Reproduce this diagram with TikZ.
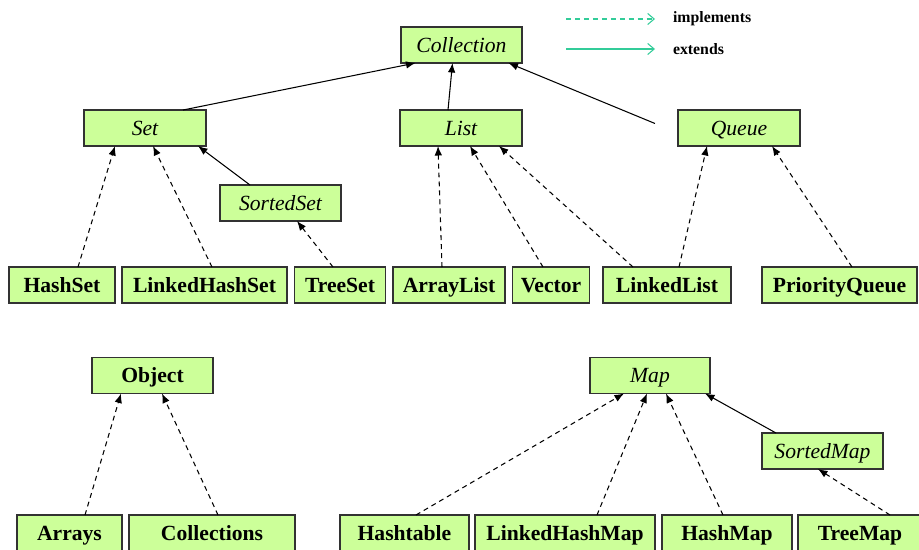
\documentclass[tikz,border=0pt]{standalone}
\usepackage{fontspec}
\setmainfont{Liberation Serif}
\usepackage{tikz}
\usetikzlibrary{positioning,calc}
\usetikzlibrary{arrows.meta}
\definecolor{mygreen}{RGB}{204,255,153}
\definecolor{myframe}{RGB}{50,50,50}
\definecolor{myteal}{RGB}{51,204,153}

\begin{document}
\begin{tikzpicture}[x=0.02cm,y=-0.02cm,outer sep=0pt,
cls/.style={
  draw=myframe,
  fill=mygreen,
  line width=0.9pt,
  inner sep=0pt,
  minimum height=0.72cm,
  text height=9.6pt,
  text depth=1.4pt,
  font={\fontsize{12.3}{14}\selectfont\bfseries}},
ifc/.style={cls,font={\fontsize{12.3}{14}\selectfont\itshape}},
ext/.style={line width=0.6pt,-{Latex[length=0.19cm,width=0.15cm]}},
impl/.style={ext,dash pattern=on 2.8pt off 2.3pt},
legend/.style={font={\fontsize{9}{11}\selectfont\bfseries},anchor=west,inner sep=0pt},
]
\useasboundingbox (0,0) rectangle (919,549);

% legend
\coordinate (limpl) at (566,19);
\coordinate (lext) at (566,49);
\node[legend] (timpl) at (673,19) {implements};
\node[legend] (text) at (673,49) {extends};
\draw[myteal,line width=0.6pt,dash pattern=on 2.8pt off 2.3pt,-{Straight Barb[length=0.13cm,width=0.22cm]}] (limpl) -- ($(timpl.west)+(-18,0)$);
\draw[myteal,line width=0.6pt,-{Straight Barb[length=0.13cm,width=0.22cm]}] (lext) -- ($(text.west)+(-18,0)$);

% collections
\node[ifc, minimum width=2.42cm] (coll) at (461.5,45) {Collection};
\node[ifc, minimum width=2.44cm] (set) at (145,128) {Set};
\node[ifc, minimum width=2.44cm] (list) at (461,128) {List};
\node[ifc, minimum width=2.44cm] (queue) at (739,128) {Queue};
\node[ifc, minimum width=2.42cm] (sset) at (280.5,203) {SortedSet};

\node[cls, minimum width=2.12cm] (hset) at (62,285) {HashSet};
\node[cls, minimum width=3.30cm] (lhset) at (204.5,285) {LinkedHashSet};
\node[cls, minimum width=1.82cm] (tset) at (340,285) {TreeSet};
\node[cls, minimum width=2.24cm] (alist) at (449,285) {ArrayList};
\node[cls, minimum width=1.54cm] (vec) at (551,285) {Vector};
\node[cls, minimum width=2.56cm] (llist) at (667,285) {LinkedList};
\node[cls, minimum width=3.10cm] (pq) at (839.5,285) {PriorityQueue};

% object and maps
\node[cls, minimum width=2.42cm] (obj) at (152.5,375.5) {Object};
\node[ifc, minimum width=2.40cm] (map) at (650,375.5) {Map};
\node[ifc, minimum width=2.42cm] (smap) at (822.5,451) {SortedMap};

\node[cls, minimum width=2.10cm] (arr) at (69.5,533) {Arrays};
\node[cls, minimum width=3.32cm] (colls) at (212,533) {Collections};
\node[cls, minimum width=2.58cm] (htab) at (404.5,533) {Hashtable};
\node[cls, minimum width=3.60cm] (lhmap) at (565,533) {LinkedHashMap};
\node[cls, minimum width=2.60cm] (hmap) at (727,533) {HashMap};
\node[cls, minimum width=2.48cm] (tmap) at (860,533) {TreeMap};

% extends
\draw[ext] ($(set.north)+(38,0)$) -- ($(coll.south)+(-46,0)$);
\draw[ext] ($(list.north)+(-13,0)$) -- ($(coll.south)+(-9,0)$);
\draw[ext,shorten <=0.5cm] ($(queue.west)+(0,5)$) -- ($(coll.south)+(47,0)$);
\draw[ext] ($(sset.north)+(-30.5,0)$) -- ($(set.south)+(53,0)$);
\draw[ext] ($(smap.north)+(-46.5,0)$) -- ($(map.south)+(55,0)$);

% implements
\draw[impl] ($(hset.north)+(16,0)$) -- ($(set.south)+(-30,0)$);
\draw[impl] ($(lhset.north)+(7.5,0)$) -- ($(set.south)+(8,0)$);
\draw[impl] ($(tset.north)+(-7,0)$) -- ($(sset.south)+(16.5,0)$);
\draw[impl] ($(alist.north)+(-7,0)$) -- ($(list.south)+(-23,0)$);
\draw[impl] ($(vec.north)+(-8,0)$) -- ($(list.south)+(9,0)$);
\draw[impl] ($(llist.north)+(-34,0)$) -- ($(list.south)+(38,0)$);
\draw[impl] ($(llist.north)+(12,0)$) -- ($(queue.south)+(-32,0)$);
\draw[impl] ($(pq.north)+(12.5,0)$) -- ($(queue.south)+(33,0)$);
\draw[impl] ($(arr.north)+(15.5,0)$) -- ($(obj.south)+(-31.5,0)$);
\draw[impl] ($(colls.north)+(6,0)$) -- ($(obj.south)+(9.5,0)$);
\draw[impl] ($(htab.north)+(11.5,0)$) -- ($(map.south)+(-26,0)$);
\draw[impl] ($(lhmap.north)+(32,0)$) -- ($(map.south)+(-3,0)$);
\draw[impl] ($(hmap.north)+(-4,0)$) -- ($(map.south)+(16,0)$);
\draw[impl] ($(tmap.north)+(30,0)$) -- ($(smap.south)+(-4.5,0)$);
\end{tikzpicture}
\end{document}
